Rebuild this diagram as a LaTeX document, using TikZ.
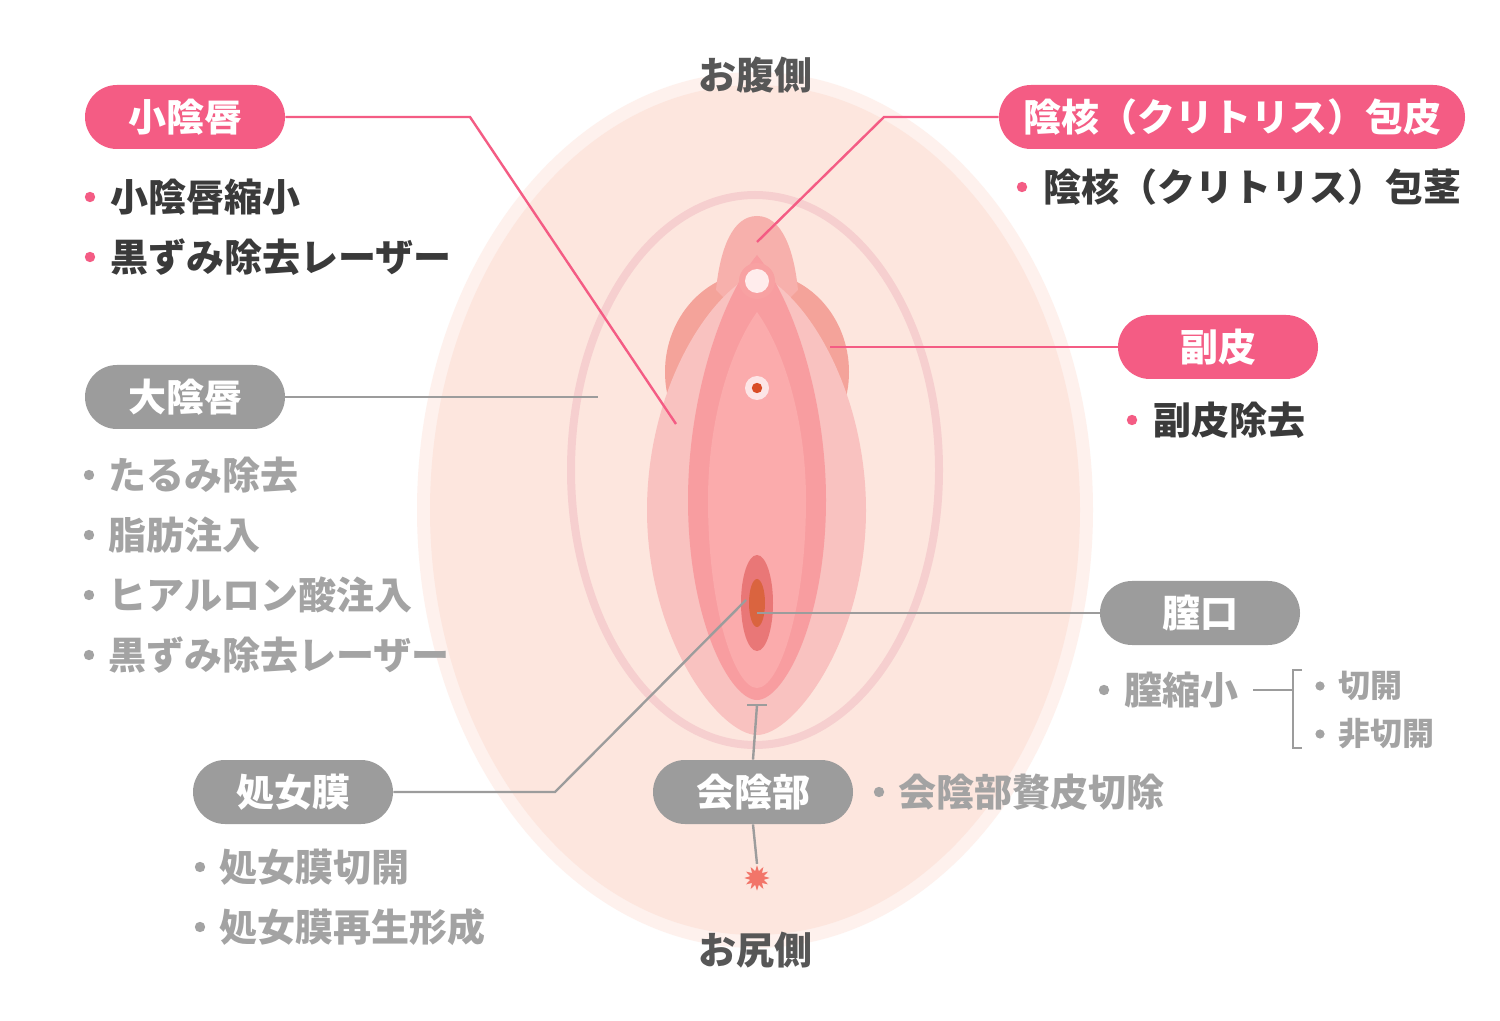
\documentclass[tikz,border=0pt]{standalone}
\usepackage{fontspec}
\setmainfont{Noto Sans CJK JP}
\usetikzlibrary{shapes.geometric}
\definecolor{pk}{HTML}{F45C84}
\definecolor{gy}{HTML}{9C9C9C}
\definecolor{dk}{HTML}{3A3A3A}
\definecolor{lg}{HTML}{A3A3A3}
\definecolor{bgc}{HTML}{FDE6DE}
\definecolor{rim}{HTML}{F6CFCF}
\definecolor{wing}{HTML}{F4A39A}
\definecolor{maj}{HTML}{F9C2C0}
\definecolor{mino}{HTML}{F89DA0}
\definecolor{inn}{HTML}{FBABAC}
\definecolor{hood}{HTML}{F7B0AC}
\tikzset{
 pill/.style={rounded corners=16pt,minimum height=32pt,text=white,font=\fontsize{19}{19}\selectfont\bfseries,inner xsep=12pt},
 pillpink/.style={pill,fill=pk},
 pillgray/.style={pill,fill=gy},
 itemtxt/.style={anchor=west,font=\fontsize{19}{19}\selectfont\bfseries,inner sep=0pt},
 dkt/.style={itemtxt,text=dk},
 lgt/.style={itemtxt,text=lg},
 smt/.style={anchor=west,font=\fontsize{16}{16}\selectfont\bfseries,inner sep=0pt,text=lg},
 pline/.style={draw=pk,line width=1.2pt},
 gline/.style={draw=gy,line width=1.2pt},
}
\begin{document}
\begin{tikzpicture}[x=0.5pt,y=-0.5pt]
\useasboundingbox[fill=white] (0,0) rectangle (1500,1021);
% background
\fill[bgc!55] (755,510) ellipse [x radius=338,y radius=438];
\fill[bgc] (755,510) ellipse [x radius=325,y radius=425];
\draw[rim,line width=4pt] (755,470) ellipse [x radius=184,y radius=275];
% wings
\fill[wing] (757,372) ellipse [x radius=92,y radius=100];
% hood
\fill[hood] (757,216) .. controls (732,216) and (720,250) .. (716,290) -- (757,330) -- (798,290) .. controls (794,250) and (782,216) .. (757,216) -- cycle;
% majora-like
\fill[maj] (757,272) .. controls (700,300) and (647,400) .. (647,510) .. controls (647,640) and (720,735) .. (757,735) .. controls (794,735) and (866,640) .. (866,510) .. controls (866,400) and (814,300) .. (757,272) -- cycle;
% minora
\fill[mino] (757,255) .. controls (720,300) and (688,400) .. (688,500) .. controls (688,620) and (730,700) .. (757,700) .. controls (784,700) and (826,620) .. (826,500) .. controls (826,400) and (794,300) .. (757,255) -- cycle;
\fill[inn] (757,312) .. controls (730,350) and (708,420) .. (708,500) .. controls (708,610) and (735,688) .. (757,688) .. controls (779,688) and (806,610) .. (806,500) .. controls (806,420) and (784,350) .. (757,312) -- cycle;
% clitoris
\fill[mino!80!hood] (757,281) circle (9pt);
\fill[white!70!pink] (757,281) circle (6pt);
\fill[white,opacity=0.7] (757,388) circle (6pt);
\fill[red!40!brown] (757,388) circle (2.6pt);
% vaginal opening
\fill[red!45!pink!90!black!85] (757,603) ellipse [x radius=16,y radius=48];
\fill[red!35!brown!90!white] (757,603) ellipse [x radius=8,y radius=24];
% perineum
\coordinate (ptop) at (757,705);
\coordinate (pstar) at (757,878);
\node[star,star points=12,star point ratio=1.8,fill=red!40!pink!80!brown,inner sep=2.5pt,minimum size=11pt] (st) at (pstar) {};
\node[pillgray,minimum width=100pt] (perin) at (753,792) {会陰部};
\draw[gline] (ptop) -- (perin.north);
\draw[gline] (747,705) -- (767,705);
\draw[gline] (perin.south) -- (st.north);
% top/bottom
\node[font=\fontsize{19}{19}\selectfont\bfseries,text=dk!85] (belly) at (755,75) {お腹側};
\node[font=\fontsize{19}{19}\selectfont\bfseries,text=dk!85] (butt) at (755,950) {お尻側};
% labels
\node[pillpink,minimum width=100pt] (shoin) at (185,117) {小陰唇};
\coordinate (a1) at (676,424);
\draw[pline] (shoin.east) -- (470,117) -- (a1);
\node[pillpink,minimum width=218pt] (hood) at (1232,117) {陰核（クリトリス）包皮};
\coordinate (a2) at (757,242);
\draw[pline] (hood.west) -- (884,117) -- (a2);
\node[pillpink,minimum width=100pt] (fuku) at (1218,347) {副皮};
\coordinate (a3) at (830,347);
\draw[pline] (fuku.west) -- (a3);
\node[pillgray,minimum width=100pt] (dai) at (185,397) {大陰唇};
\coordinate (a4) at (598,397);
\draw[gline] (dai.east) -- (a4);
\node[pillgray,minimum width=100pt] (chitsu) at (1200,613) {膣口};
\coordinate (a5) at (757,613);
\draw[gline] (chitsu.west) -- (a5);
\node[pillgray,minimum width=100pt] (shojo) at (293,792) {処女膜};
\coordinate (a6) at (746,600);
\draw[gline] (shojo.east) -- (555,792) -- (a6);
% lists
\foreach \y/\t in {197/小陰唇縮小,257/黒ずみ除去レーザー}{
 \fill[pk] (90,\y) circle (2.6pt); \node[dkt] at (110,\y) {\t};}
\fill[pk] (1022,187) circle (2.6pt); \node[dkt] at (1043,187) {陰核（クリトリス）包茎};
\fill[pk] (1132,420) circle (2.6pt); \node[dkt] at (1153,420) {副皮除去};
\foreach \y/\t in {475/たるみ除去,535/脂肪注入,595/ヒアルロン酸注入,655/黒ずみ除去レーザー}{
 \fill[lg] (89,\y) circle (2.6pt); \node[lgt] at (108,\y) {\t};}
\foreach \y/\t in {867/処女膜切開,927/処女膜再生形成}{
 \fill[lg] (200,\y) circle (2.6pt); \node[lgt] at (219,\y) {\t};}
\fill[lg] (879,792) circle (2.6pt); \node[lgt] at (898,792) {会陰部贅皮切除};
\fill[lg] (1104,690) circle (2.6pt); \node[lgt] (shuku) at (1124,690) {膣縮小};
\draw[gline] (1253,690) -- (1293,690);
\draw[gline] (1302,670) -- (1293,670) -- (1293,748) -- (1302,748);
\fill[lg] (1320,686) circle (2.3pt); \node[smt] at (1338,686) {切開};
\fill[lg] (1320,734) circle (2.3pt); \node[smt] at (1338,734) {非切開};
\end{tikzpicture}
\end{document}
